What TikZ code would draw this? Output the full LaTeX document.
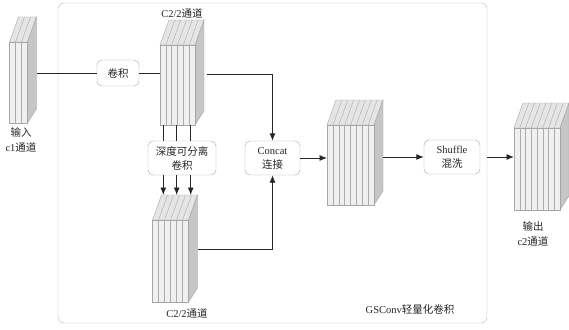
\documentclass[tikz,border=0pt]{standalone}
\usepackage{fontspec}
\setmainfont{Liberation Serif}
\newfontfamily\cjk{Noto Sans CJK SC}
\newcommand{\zh}[1]{{\cjk #1}}
\usetikzlibrary{arrows.meta}

\begin{document}
\begin{tikzpicture}[x=1pt, y=-1pt, >={Latex[length=7.5pt,width=6pt]},
  blockfront/.style={draw=gray!70, fill=gray!12, inner sep=0pt, outer sep=0pt},
  blocktop/.style={draw=gray!70, fill=gray!20},
  blockside/.style={draw=gray!70, fill=gray!45},
  stripline/.style={gray!65, line width=0.4pt},
  opbox/.style={draw=gray!70, rounded corners=5pt, fill=white, align=center,
    font=\fontsize{10.5}{14}\selectfont, text=black!85},
  lbl/.style={font=\fontsize{10.5}{15}\selectfont, text=black!85, align=center},
  conn/.style={line width=0.9pt, black!85}]

  \useasboundingbox (0,0) rectangle (569,329);

  % Outer GSConv frame
  \node[draw=gray!55, rounded corners=6pt, minimum width=429, minimum height=320,
    inner sep=0pt] (gsconv) at (272.5,163) {};
  \node[lbl] (gslbl) at (410,309) {GSConv\zh{轻量化卷积}};

  % Channel blocks (name / front top-left x / y / width / height / strips)
  \foreach \name/\bx/\by/\bw/\bh/\bn in {inblk/9.5/42/18/81/3, c2a/160/45/35/80/6,
      c2b/152.5/220/36/82/6, mid/327/125/47/80/8, outblk/514/128/46/82/8} {
    \pgfmathtruncatemacro{\nlast}{\bn-1}
    \filldraw[blocktop] (\bx,\by) -- ++(9,-25) -- ++(\bw,0) -- ({\bx+\bw},\by) -- cycle;
    \filldraw[blockside] ({\bx+\bw},\by) -- ++(9,-25) -- ++(0,{\bh+11})
      -- ({\bx+\bw},{\by+\bh}) -- cycle;
    \node[blockfront, minimum width=\bw, minimum height=\bh, anchor=north west]
      (\name) at (\bx,\by) {};
    \foreach \i in {1,...,\nlast} {
      \draw[stripline] ({\bx+\i*\bw/\bn},\by) -- ++(0,\bh);
      \draw[stripline] ({\bx+\i*\bw/\bn},\by) -- ++(9,-25);
    }
    \coordinate (\name-side) at ({\bx+\bw+9},{\by+29});
    \coordinate (\name-back) at ({\bx+9},{\by-25});
  }

  % Operation boxes
  \node[opbox, minimum width=42, minimum height=26] (conv) at (118,73) {\zh{卷积}};
  \node[opbox, minimum width=68, minimum height=34] (dw) at (182,158)
    {\zh{深度可分离}\\\zh{卷积}};
  \node[opbox, minimum width=55, minimum height=34] (concat) at (272.5,158)
    {Concat\\\zh{连接}};
  \node[opbox, minimum width=56, minimum height=34] (shuffle) at (452,157)
    {Shuffle\\\zh{混洗}};

  % Labels
  \node[lbl] (inlbl) at (21,140) {\zh{输入}\\c1\zh{通道}};
  \node[lbl] (c2albl) at (182,13) {C2/2\zh{通道}};
  \node[lbl] (c2blbl) at (187,313) {C2/2\zh{通道}};
  \node[lbl] (outlbl) at (533,234) {\zh{输出}\\c2\zh{通道}};

  % Connectors
  \draw[conn] (inblk-side |- conv.west) -- (conv.west);
  \draw[conn] (conv.east) -- (conv.east -| c2a.west);
  \draw[conn, ->, shorten <=3pt] (c2a-side) -| (concat.north);
  \draw[conn, ->] (c2b-side) -| (concat.south);
  \foreach \dx in {-18.7,-5.3,8.7} {
    \draw[conn] ([xshift=\dx]dw.north) -- ([xshift=\dx]dw.north |- c2a.south);
    \draw[conn, ->] ([xshift=\dx]dw.south) -- ([xshift=\dx]dw.south |- c2b-back);
  }
  \draw[conn, ->] (concat.east) -- (concat.east -| mid.west);
  \draw[conn, ->] (mid-side |- shuffle.west) -- (shuffle.west);
  \draw[conn, ->] (gsconv.east |- shuffle.east) -- (shuffle.east -| outblk.west);
\end{tikzpicture}
\end{document}
